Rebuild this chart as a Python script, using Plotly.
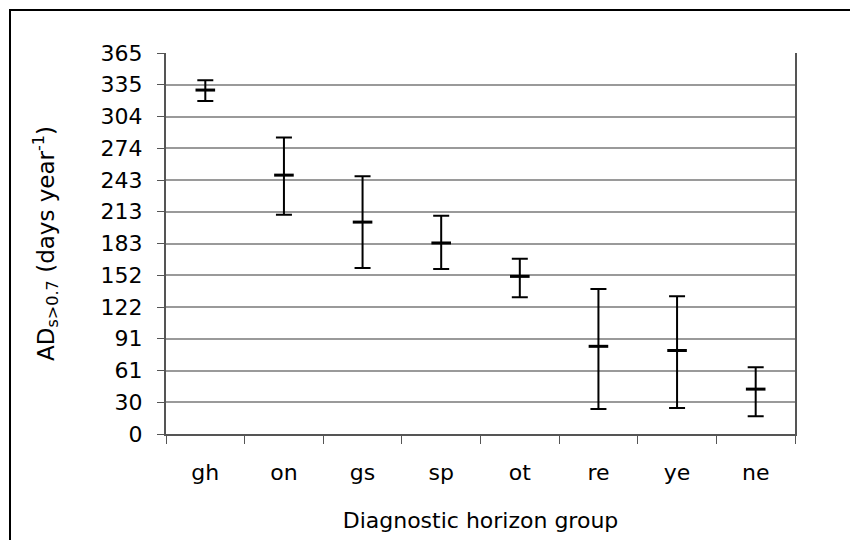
import plotly.graph_objects as go

categories = ["gh", "on", "gs", "sp", "ot", "re", "ye", "ne"]
means = [329.5, 248, 203, 183, 151, 84, 80, 43]
upper = [339, 284, 247, 209, 168, 139, 132, 64]
lower = [319, 210, 159, 158, 131, 24, 25, 17]
ytick_vals = [365 * k / 12 for k in range(13)]
ytick_text = ["0", "30", "61", "91", "122", "152", "183", "213", "243", "274", "304", "335", "365"]

err_plus = [u - m for u, m in zip(upper, means)]
err_minus = [m - l for m, l in zip(means, lower)]

fig = go.Figure()
fig.add_trace(go.Scatter(
    x=categories, y=means, mode="markers",
    marker=dict(symbol="line-ew", size=14, line=dict(width=3, color="black"), color="black"),
    error_y=dict(type="data", symmetric=False, array=err_plus, arrayminus=err_minus,
                 color="black", thickness=2, width=8),
    showlegend=False,
))

font = "DejaVu Sans, sans-serif"
fig.update_layout(
    width=850, height=540,
    margin=dict(l=166, r=55, t=53, b=106),
    paper_bgcolor="white", plot_bgcolor="white",
    font=dict(family=font, size=22, color="black"),
    xaxis=dict(
        type="category", tickson="boundaries", ticks="outside", ticklen=8,
        tickcolor="#555", showline=True, linecolor="#555", linewidth=2,
        showgrid=False, tickfont=dict(size=22), ticklabelstandoff=18,
        title=dict(text="Diagnostic horizon group", font=dict(size=22), standoff=28),
        range=[-0.5, 7.5],
    ),
    yaxis=dict(
        range=[0, 365], tickvals=ytick_vals, ticktext=ytick_text,
        ticks="outside", ticklen=7, tickcolor="#555",
        showline=True, linecolor="#555", linewidth=2, mirror=True,
        showgrid=True, gridcolor="#9a9a9a", gridwidth=2,
        zeroline=False, tickfont=dict(size=22), ticklabelstandoff=10,
        title=dict(text="AD<sub>s>0.7</sub> (days year<sup>-1</sup>)", font=dict(size=23), standoff=40),
    ),
    shapes=[dict(type="rect", xref="paper", yref="paper",
                 x0=(10 - 166) / 629, x1=1.3, y0=-0.4, y1=(434 - 10) / 381,
                 line=dict(color="black", width=2))],
)

fig.write_html("out.html")
